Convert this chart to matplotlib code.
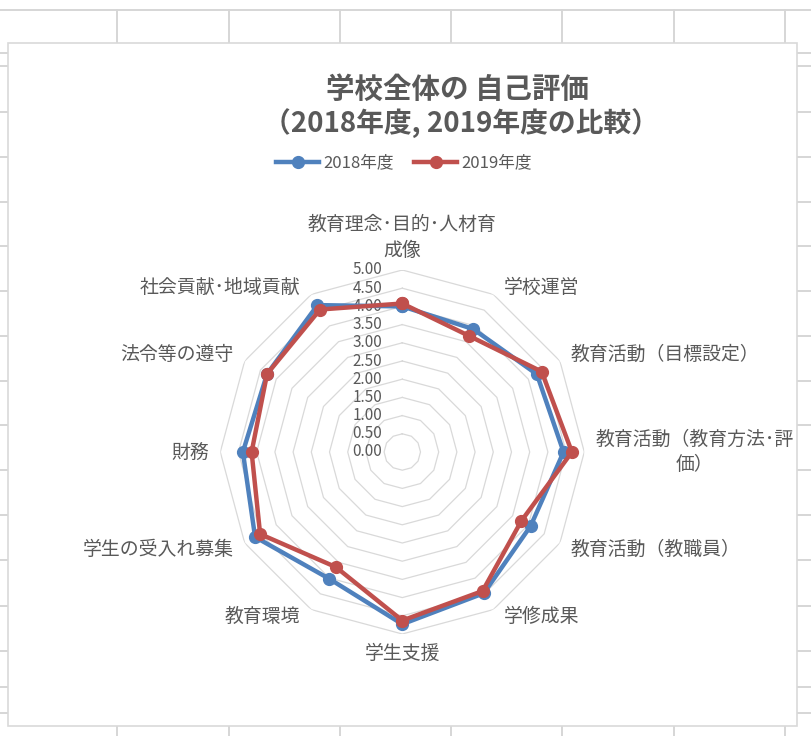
import numpy as np
import matplotlib.pyplot as plt
from matplotlib.lines import Line2D
from matplotlib.patches import Rectangle

plt.rcParams['font.family'] = ['Noto Sans CJK JP', 'DejaVu Sans']

# data
categories = [
    '教育理念･目的･人材育\n成像',
    '学校運営',
    '教育活動（目標設定）',
    '教育活動（教育方法･評\n価）',
    '教育活動（教職員）',
    '学修成果',
    '学生支援',
    '教育環境',
    '学生の受入れ募集',
    '財務',
    '法令等の遵守',
    '社会貢献･地域貢献',
]
score_2018 = [4.00, 3.90, 4.27, 4.43, 4.07, 4.48, 4.73, 4.02, 4.67, 4.38, 4.29, 4.66]
score_2019 = [4.08, 3.68, 4.42, 4.66, 3.78, 4.41, 4.63, 3.65, 4.51, 4.14, 4.29, 4.52]
series_names = ['2018年度', '2019年度']
r_levels = [0.0, 0.5, 1.0, 1.5, 2.0, 2.5, 3.0, 3.5, 4.0, 4.5, 5.0]

TXT = '#595959'
BLUE = '#4F81BD'
RED = '#C0504D'
GRID = '#d9d9d9'

W, H = 811, 736
fig = plt.figure(figsize=(W / 100, H / 100), dpi=100)

# spreadsheet background (pixel coords)
bg = fig.add_axes([0, 0, 1, 1])
bg.set_xlim(0, W)
bg.set_ylim(H, 0)
bg.axis('off')
row_y = [10, 53, 66, 112, 157, 202, 246, 291, 336, 381, 425, 470, 515, 560, 606, 651, 687, 713]
col_x = [117, 229, 340, 451, 562, 674, 785]
for y in row_y:
    bg.plot([0, W], [y, y], color='#d6d6d6', lw=1.4)
for x in col_x:
    bg.plot([x, x], [10, H], color='#d6d6d6', lw=1.4)
bg.add_patch(Rectangle((8, 43), 789, 683, facecolor='white', edgecolor='#d9d9d9', lw=1.2, zorder=3))

# radar axes
cx, cy, R = 402.3, 452, 182
ax = fig.add_axes([(cx - R) / W, (H - cy - R) / H, 2 * R / W, 2 * R / H], projection='polar')
ax.set_theta_zero_location('N')
ax.set_theta_direction(-1)
ax.set_ylim(0, 5)
ax.set_axis_off()

n = len(categories)
theta = np.linspace(0, 2 * np.pi, n, endpoint=False)
theta_c = np.append(theta, theta[0])

for lv in r_levels[1:]:
    ax.plot(theta_c, [lv] * (n + 1), color=GRID, lw=0.9, zorder=1)

for lv in r_levels:
    ax.annotate(f'{lv:.2f}', (0, lv), xytext=(-20, 0), textcoords='offset pixels',
                ha='right', va='center', fontsize=11, color=TXT)

for vals, col in [(score_2018, BLUE), (score_2019, RED)]:
    v = vals + vals[:1]
    ax.plot(theta_c, v, color=col, lw=3.2, marker='o', ms=8.5, zorder=3)

for t, lab in zip(theta, categories):
    s, c = np.sin(t), np.cos(t)
    ha = 'left' if s > 0.1 else ('right' if s < -0.1 else 'center')
    va = 'bottom' if c > 0.1 else ('top' if c < -0.1 else 'center')
    dx = 11 * np.sign(s) if abs(s) > 0.1 else 0
    if abs(s) < 0.1:
        dy = 9 * np.sign(c)
    elif abs(c) < 0.1:
        dy = 0
    else:
        dy = -4 * np.sign(c)
    ax.annotate(lab, (t, 5), xytext=(dx, dy), textcoords='offset pixels',
                ha=ha, va=va, fontsize=13.6, color=TXT, multialignment='center',
                linespacing=1.3, annotation_clip=False)

# title
fig.text(458 / W, 1 - 90 / H, '学校全体の 自己評価', ha='center', va='center',
         fontsize=20.5, fontweight='bold', color=TXT)
fig.text(461 / W, 1 - 123 / H, '（2018年度, 2019年度の比較）', ha='center', va='center',
         fontsize=20, fontweight='bold', color=TXT)

handles = [Line2D([], [], color=c, lw=3.2, marker='o', ms=8.5) for c in (BLUE, RED)]
fig.legend(handles, series_names, loc='center', bbox_to_anchor=(404 / W, 1 - 163 / H),
           ncol=2, frameon=False, fontsize=12, labelcolor=TXT,
           handlelength=2.6, handletextpad=0.25, columnspacing=1.2)

fig.savefig('out.png', dpi=100)
